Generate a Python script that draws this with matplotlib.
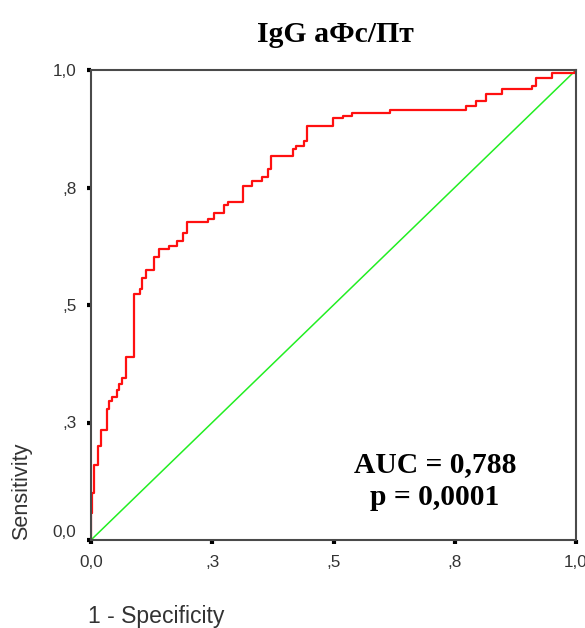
import matplotlib.pyplot as plt

# ROC curve corner points (1 - specificity, sensitivity)
fpr = [0.0, 0.0, 0.0014, 0.0062, 0.0138, 0.0206, 0.0324, 0.0377, 0.0439, 0.053,
       0.0584, 0.0645, 0.0715, 0.0893, 0.101, 0.106, 0.113, 0.1305, 0.140, 0.161,
       0.178, 0.189, 0.197, 0.241, 0.254, 0.275, 0.282, 0.313, 0.331, 0.353,
       0.364, 0.371, 0.417, 0.422, 0.440, 0.446, 0.499, 0.520, 0.538, 0.616,
       0.773, 0.794, 0.814, 0.848, 0.909, 0.918, 0.951, 0.998, 1.0]
tpr = [0.0, 0.057, 0.100, 0.160, 0.200, 0.234, 0.279, 0.296, 0.304, 0.319,
       0.332, 0.345, 0.389, 0.523, 0.533, 0.557, 0.574, 0.603, 0.619, 0.626,
       0.636, 0.653, 0.677, 0.684, 0.695, 0.713, 0.719, 0.753, 0.764, 0.772,
       0.789, 0.816, 0.831, 0.838, 0.848, 0.881, 0.897, 0.902, 0.909, 0.915,
       0.923, 0.933, 0.950, 0.960, 0.966, 0.984, 0.993, 1.0, 1.0]

ticks = [0.0, 0.25, 0.5, 0.75, 1.0]
tick_labels = ['0,0', ',3', ',5', ',8', '1,0']

title = 'IgG аФс/Пт'
auc_lines = ['AUC = 0,788', 'p = 0,0001']

W, H = 585, 628
fig = plt.figure(figsize=(W / 100, H / 100), dpi=100)
ax = fig.add_axes([91 / W, 1 - 540 / H, 485 / W, 470 / H])

ax.plot([0, 1], [0, 1], color='#22ee22', lw=1.1)
ax.step(fpr, tpr, where='post', color='#ff1010', lw=1.6)

ax.set_xlim(0, 1)
ax.set_ylim(0, 1)
ax.set_xticks(ticks)
ax.set_yticks(ticks)
ax.set_xticklabels(tick_labels)
ax.set_yticklabels(tick_labels)
for s in ax.spines.values():
    s.set_color('#4a4a4a')
    s.set_linewidth(1.5)
ax.tick_params(direction='out', length=3, width=3, color='black',
               labelsize=12.3, labelcolor='#333333')
ax.tick_params(axis='x', pad=7.5)
ax.tick_params(axis='y', pad=7.5)
for lab in ax.get_xticklabels() + ax.get_yticklabels():
    lab.set_family('Liberation Sans')
# SPSS lifts the y "0,0" label above the corner
ylabs = ax.get_yticklabels()
ylabs[0].set_va('bottom')

fig.text(335 / W, 1 - 42 / H, title, ha='center', va='baseline',
         family='Liberation Serif', fontweight='bold', fontsize=21.4)

for line, base in zip(auc_lines, [472, 505]):
    fig.text(435 / W, 1 - base / H, line, ha='center', va='baseline',
             family='Liberation Serif', fontweight='bold', fontsize=21.3)

fig.text(88 / W, 1 - 623 / H, '1 - Specificity', ha='left', va='baseline',
         family='Liberation Sans', fontsize=16.6, color='#333333')
fig.text(22 / W, 1 - 491 / H, 'Sensitivity', ha='center', va='center',
         rotation=90, family='Liberation Sans', fontsize=15.6, color='#333333')

fig.savefig('out.png', dpi=100)
